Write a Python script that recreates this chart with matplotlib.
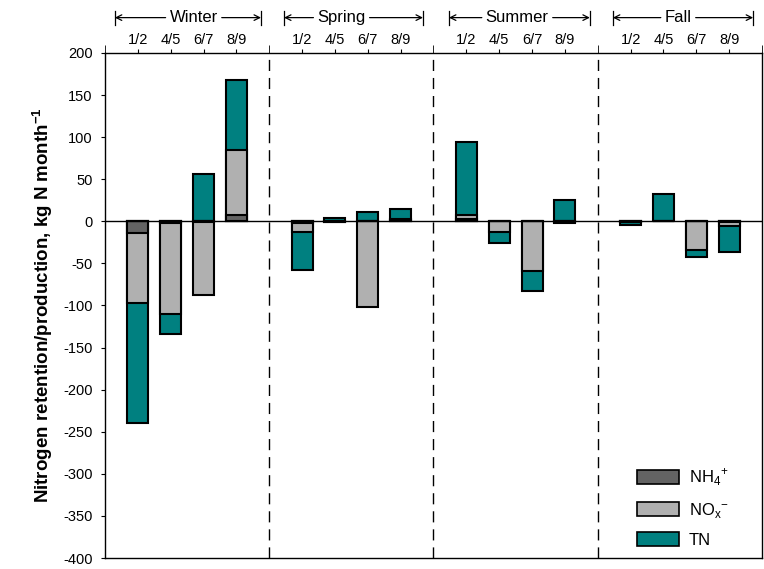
import matplotlib
matplotlib.use("Agg")
import matplotlib.pyplot as plt
from matplotlib.patches import Patch
import numpy as np

plt.rcParams['font.family'] = ['Liberation Sans', 'DejaVu Sans']
plt.rcParams['axes.unicode_minus'] = False
plt.rcParams['mathtext.fontset'] = 'custom'
plt.rcParams['mathtext.rm'] = 'Liberation Sans'
plt.rcParams['mathtext.bf'] = 'Liberation Sans:bold'

seasons = ["Winter", "Spring", "Summer", "Fall"]
periods = ["1/2", "4/5", "6/7", "8/9"]

# kg N per month, one value per season/period (Winter..Fall, 1/2..8/9)
nh4 = [-14, -2, -1, 7,
       -2, -1, 0, 1,
       3, 0, 0, -2,
       -1, 0, 0, -1]
nox = [-97, -110, -88, 85,
       -13, -1, -102, 3,
       7, -13, -59, -1,
       -1, 0, -34, -5]
tn = [-240, -134, 56, 168,
      -58, 4, 11, 15,
      94, -26, -83, 25,
      -4, 33, -42, -37]

c_nh4 = "#636363"
c_nox = "#b0b0b0"
c_tn = "#008080"

fig = plt.figure(figsize=(7.64, 5.69), dpi=100)
ax = fig.add_axes([0.1374, 0.0193, 0.86, 0.8876])

xpos = np.array([5 * s + p + 1 for s in range(4) for p in range(4)], dtype=float)
w = 0.64
kw = dict(width=w, edgecolor="black", linewidth=1.5, zorder=3)
ax.bar(xpos, tn, color=c_tn, **kw)
ax.bar(xpos, nox, color=c_nox, **kw)
ax.bar(xpos, nh4, color=c_nh4, **kw)

ax.axhline(0, color="black", linewidth=1.0, zorder=4)
for s in range(1, 4):
    ax.axvline(5 * s, color="black", linewidth=1.0, linestyle=(0, (8, 5)), zorder=2)

ax.set_xlim(0, 20)
ax.set_ylim(-400, 200)
ax.set_yticks(np.arange(-400, 201, 50))
ax.tick_params(axis="y", direction="out", length=3, labelsize=10.5, pad=6)
ax.set_ylabel(r"Nitrogen retention/production, kg N month$^{\mathbf{-1}}$",
              fontsize=13.5, fontweight="bold", labelpad=6)

# period labels on the top axis
ax.xaxis.tick_top()
ax.set_xticks(xpos)
ax.set_xticklabels(periods * 4)
ax.tick_params(axis="x", direction="out", length=3, labelsize=10.5, pad=1)
ax.set_xticks([0, 5, 10, 15, 20], minor=True)
ax.tick_params(axis="x", which="minor", direction="out", length=6)

for sp in ax.spines.values():
    sp.set_linewidth(1.0)

# season brackets above the period labels
season_center = [2.7, 2.2, 2.55, 2.45]
bracket_left = [0.3, 0.45, 0.47, 0.46]
bracket_right = [4.75, 4.68, 4.76, 4.73]
y_br = 1.07
fig.canvas.draw()
renderer = fig.canvas.get_renderer()
for s, name in enumerate(seasons):
    x0 = 5 * s
    t = ax.text(x0 + season_center[s], y_br, name, transform=ax.get_xaxis_transform(),
                ha="center", va="center", fontsize=12, clip_on=False)
    bb = t.get_window_extent(renderer).transformed(ax.transData.inverted())
    gap = 0.12
    arrow = dict(arrowstyle="->", color="black", lw=0.9, shrinkA=0, shrinkB=0,
                 mutation_scale=10)
    ax.annotate("", xy=(x0 + bracket_left[s], y_br), xytext=(bb.x0 - gap, y_br),
                xycoords=("data", "axes fraction"), textcoords=("data", "axes fraction"),
                arrowprops=arrow, annotation_clip=False)
    ax.annotate("", xy=(x0 + bracket_right[s], y_br), xytext=(bb.x1 + gap, y_br),
                xycoords=("data", "axes fraction"), textcoords=("data", "axes fraction"),
                arrowprops=arrow, annotation_clip=False)
    for xb in (bracket_left[s], bracket_right[s]):
        ax.plot([x0 + xb, x0 + xb], [y_br - 0.014, y_br + 0.014], color="black", lw=0.9,
                transform=ax.get_xaxis_transform(), clip_on=False)

handles = [Patch(facecolor=c_nh4, edgecolor="black", linewidth=1.2),
           Patch(facecolor=c_nox, edgecolor="black", linewidth=1.2),
           Patch(facecolor=c_tn, edgecolor="black", linewidth=1.2)]
ax.legend(handles, [r"NH$_{4}$$^{+}$", r"NO$_{\mathrm{x}}$$^{-}$", "TN"], loc="lower right",
          bbox_to_anchor=(0.972, -0.01), frameon=False, fontsize=12,
          handlelength=2.5, handleheight=0.9, labelspacing=0.75, handletextpad=0.6)

fig.savefig("out.png", dpi=100)
